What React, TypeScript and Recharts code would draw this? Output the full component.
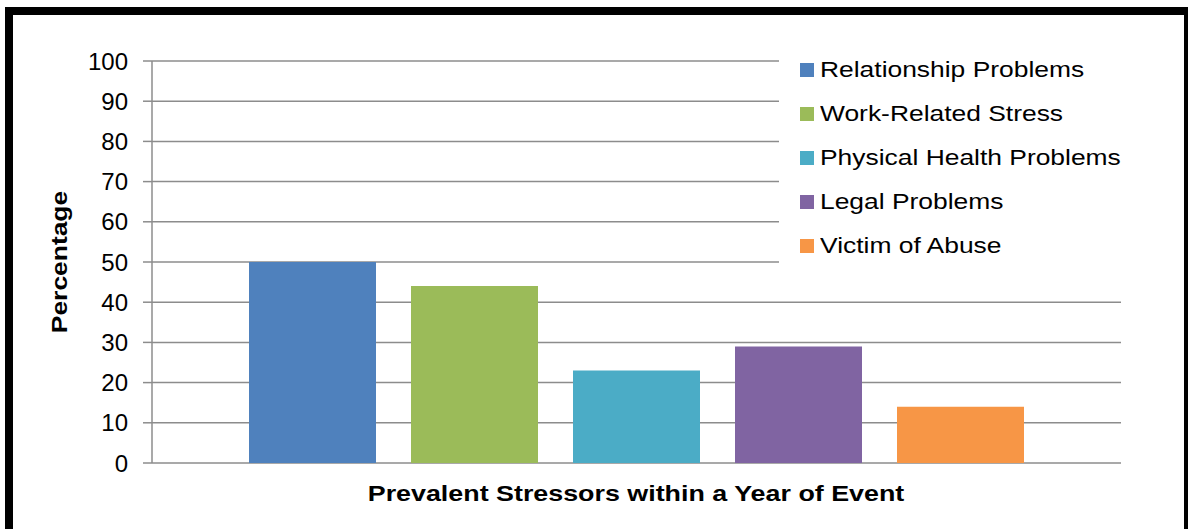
import { BarChart, Bar, XAxis, YAxis, CartesianGrid } from "recharts";

const stressors = [
  "Relationship Problems",
  "Work-Related Stress",
  "Physical Health Problems",
  "Legal Problems",
  "Victim of Abuse",
];
const percentages = [50, 44, 23, 29, 14];
const colors = ["#4F81BD", "#9BBB59", "#4BACC6", "#8064A2", "#F79646"];
const yTicks = [0, 10, 20, 30, 40, 50, 60, 70, 80, 90, 100];

const row: Record<string, string | number> = { name: "All" };
stressors.forEach((s, i) => {
  row[s] = percentages[i];
});
const data = [row];

const FONT = "Arial, 'Liberation Sans', sans-serif";
const GRID = "#8c8c8c";

function YTick(props: any) {
  const { x, y, payload } = props;
  return (
    <text x={x} y={y} dy="0.36em" textAnchor="end" fill="#000" fontSize={24} fontFamily={FONT}>
      {payload.value}
    </text>
  );
}

function LegendBox() {
  return (
    <div
      style={{
        position: "absolute",
        left: 779,
        top: 48,
        background: "#fff",
        width: 344,
        height: 218,
        fontFamily: FONT,
      }}
    >
      {stressors.map((s, i) => (
        <div key={s} style={{ height: 44, display: "flex", alignItems: "center", paddingLeft: 21 }}>
          <span style={{ width: 14, height: 14, background: colors[i], display: "inline-block", marginRight: 6 }} />
          <span
            style={{
              fontSize: 22,
              color: "#000",
              lineHeight: "22px",
              whiteSpace: "nowrap",
              display: "inline-block",
              transform: "scaleX(1.2)",
              transformOrigin: "left center",
            }}
          >
            {s}
          </span>
        </div>
      ))}
    </div>
  );
}

export default function App() {
  return (
    <div style={{ position: "fixed", left: 0, top: 0, width: 1188, height: 529, overflow: "hidden", background: "#fff" }}>
      <div
        style={{
          position: "absolute",
          left: 5,
          top: 7,
          width: 1171,
          height: 560,
          border: "8px solid #000",
        }}
      />
      <div style={{ position: "absolute", left: 0, top: 0 }}>
        <BarChart
          width={1188}
          height={529}
          data={data}
          margin={{ top: 61, right: 67, left: 92, bottom: 66 }}
          barCategoryGap={97}
          barGap={35}
        >
          <CartesianGrid horizontal vertical={false} stroke={GRID} strokeWidth={1.5} />
          <XAxis
            dataKey="name"
            height={0}
            tick={false}
            tickLine={false}
            axisLine={{ stroke: GRID, strokeWidth: 2 }}
          />
          <XAxis
            xAxisId="edge"
            type="number"
            domain={[0, 1]}
            ticks={[0, 1]}
            height={0}
            axisLine={false}
            tick={false}
            tickSize={8}
            tickLine={{ stroke: GRID, strokeWidth: 1.5 }}
          />
          <YAxis
            width={60}
            domain={[0, 100]}
            ticks={yTicks}
            interval={0}
            tickSize={9}
            tickMargin={15}
            axisLine={{ stroke: GRID, strokeWidth: 1.5 }}
            tickLine={{ stroke: GRID, strokeWidth: 1.5 }}
            tick={<YTick />}
          />
          {stressors.map((s, i) => (
            <Bar key={s} dataKey={s} fill={colors[i]} isAnimationActive={false} />
          ))}
        </BarChart>
      </div>
      <LegendBox />
      <div
        style={{
          position: "absolute",
          left: 60,
          top: 262,
          transform: "translate(-50%, -50%) rotate(-90deg) scaleX(1.2)",
          fontFamily: FONT,
          fontWeight: "bold",
          fontSize: 22,
          whiteSpace: "nowrap",
          color: "#000",
        }}
      >
        Percentage
      </div>
      <div
        style={{
          position: "absolute",
          left: 636,
          top: 494,
          transform: "translate(-50%, -50%) scaleX(1.22)",
          fontFamily: FONT,
          fontWeight: "bold",
          fontSize: 22,
          whiteSpace: "nowrap",
          color: "#000",
        }}
      >
        Prevalent Stressors within a Year of Event
      </div>
    </div>
  );
}
